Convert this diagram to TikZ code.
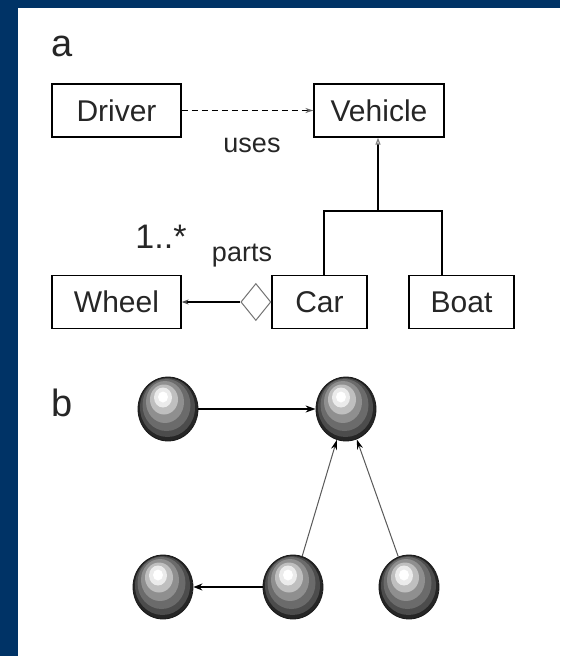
\documentclass[tikz,border=0pt]{standalone}
\usepackage{fontspec}
\setmainfont{Liberation Sans}
\usepackage{tikz}
\usetikzlibrary{arrows.meta,shapes.geometric}
\definecolor{navy}{RGB}{0,51,102}

\begin{document}
\begin{tikzpicture}[x=1pt,y=-1pt,
  cls/.style={draw, line width=1.3pt, minimum height=53pt, inner sep=0pt, text=black!85, font=\fontsize{30}{36}\selectfont},
  lbl/.style={text=black!85, inner sep=0pt, font=\fontsize{27}{32}\selectfont},
  ball/.style={ellipse, draw=black!90, line width=0.8pt, minimum width=60pt, minimum height=64pt, inner sep=0pt,
    path picture={
      % shaded bands, shifted up-left towards the highlight
      \foreach \rx/\ry/\dx/\dy/\c in {30/32/0/0/black!85, 27.5/29.5/-0.5/1.5/black!70, 24/26/-1.5/4/black!58,
          19/21/-3/7/black!44, 14/15/-4/9.5/black!25, 9/10/-5/11.5/black!8, 5/5.5/-5/12/white}
        \fill[\c] ([shift={(\dx pt,\dy pt)}]path picture bounding box.center)
          ellipse [x radius=\rx pt, y radius=\ry pt];
    }}]
\fill[navy] (0,0) rectangle (560,656);
\fill[white] (17.5,8) rectangle (560,656);

% class diagram
\node[lbl, font=\fontsize{38}{44}\selectfont] (la) at (62,46) {a};
\node[cls, minimum width=129pt] (drv) at (116.5,110.5) {Driver};
\node[cls, minimum width=130pt] (veh) at (379,110.5) {Vehicle};
\node[cls, minimum width=129pt] (whl) at (116.5,302) {Wheel};
\node[cls, minimum width=95pt] (car) at (319.5,302) {Car};
\node[cls, minimum width=105pt] (boat) at (461.5,302) {Boat};
\node[diamond, draw=black!55, line width=1pt, minimum width=30pt, minimum height=37pt, inner sep=0pt, anchor=east] (dia) at (car.west) {};
\node[lbl] (uses) at (252,145) {uses};
\node[lbl] (parts) at (242,255.5) {parts};
\node[lbl, font=\fontsize{34}{40}\selectfont] (mult) at (161,237) {1..*};
\coordinate (j) at (378,211);
\coordinate (jl) at (324,211);
\coordinate (jr) at (442,211);

\draw[line width=1.4pt, dash pattern=on 6pt off 4pt, -{Stealth[length=8pt,width=5pt,black!60]}] (drv) -- (veh);
\draw[line width=1.2pt, -{Triangle[open,length=7pt,width=5pt,black!50]}] (j) -- (veh.south -| j);
\draw[line width=1.2pt] (car.north -| jl) -- (jl) -- (jr) -- (boat.north -| jr);
\draw[line width=1.2pt, -{Stealth[length=7pt,width=5pt,black!70]}] (dia) -- (whl);

% object graph
\node[lbl, font=\fontsize{38}{44}\selectfont] (lb) at (62,403) {b};
\node[ball] (o1) at (168,409) {};
\node[ball] (o2) at (346,409) {};
\node[ball] (o3) at (163,587) {};
\node[ball] (o4) at (293,587) {};
\node[ball] (o5) at (409,587) {};

\draw[line width=1.4pt, -{Stealth[length=10pt,width=7pt]}] (o1) -- (o2);
\draw[line width=1.4pt, -{Stealth[length=9pt,width=7pt]}] (o4) -- (o3);
\draw[line width=1pt, black!65, -{Stealth[length=10pt,width=6pt,black]}] (o4) -- (o2);
\draw[line width=1pt, black!65, -{Stealth[length=10pt,width=6pt,black]}] (o5) -- (o2);
\end{tikzpicture}
\end{document}
